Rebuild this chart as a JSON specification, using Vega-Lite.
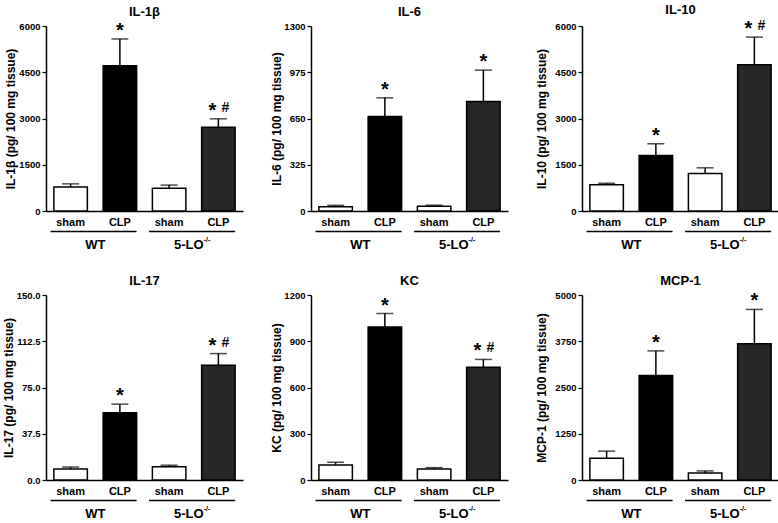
{
"$schema": "https://vega.github.io/schema/vega-lite/v6.json",
"padding": {"left": 2, "top": 4, "right": 0, "bottom": 0},
"background": "white",
"config": {
  "view": {"stroke": null},
  "font": "Liberation Sans",
  "axis": {"labelFont": "Liberation Sans", "titleFont": "Liberation Sans", "labelFontWeight": "bold", "titleFontWeight": "bold", "labelColor": "black", "titleColor": "black", "domainColor": "black", "tickColor": "black", "domainWidth": 1.5, "tickWidth": 1.2, "grid": false, "labelOverlap": false},
  "title": {"font": "Liberation Sans", "fontSize": 13, "fontWeight": "bold", "color": "black", "offset": 2, "anchor": "middle"},
  "text": {"font": "Liberation Sans", "fontWeight": "bold", "color": "black"}
},
"datasets": {
  "cyto": [
    {"cytokine": "IL-1β", "cond": "WT sham", "mean": 780, "upper": 880, "star": "", "hash": ""},
    {"cytokine": "IL-1β", "cond": "WT CLP", "mean": 4710, "upper": 5580, "star": "*", "hash": ""},
    {"cytokine": "IL-1β", "cond": "KO sham", "mean": 740, "upper": 840, "star": "", "hash": ""},
    {"cytokine": "IL-1β", "cond": "KO CLP", "mean": 2720, "upper": 2990, "star": "*", "hash": "#"},
    {"cytokine": "IL-6", "cond": "WT sham", "mean": 30, "upper": 40, "star": "", "hash": ""},
    {"cytokine": "IL-6", "cond": "WT CLP", "mean": 664, "upper": 795, "star": "*", "hash": ""},
    {"cytokine": "IL-6", "cond": "KO sham", "mean": 34, "upper": 41, "star": "", "hash": ""},
    {"cytokine": "IL-6", "cond": "KO CLP", "mean": 770, "upper": 990, "star": "*", "hash": ""},
    {"cytokine": "IL-10", "cond": "WT sham", "mean": 850, "upper": 900, "star": "", "hash": ""},
    {"cytokine": "IL-10", "cond": "WT CLP", "mean": 1800, "upper": 2180, "star": "*", "hash": ""},
    {"cytokine": "IL-10", "cond": "KO sham", "mean": 1220, "upper": 1400, "star": "", "hash": ""},
    {"cytokine": "IL-10", "cond": "KO CLP", "mean": 4740, "upper": 5640, "star": "*", "hash": "#"},
    {"cytokine": "IL-17", "cond": "WT sham", "mean": 9, "upper": 10.5, "star": "", "hash": ""},
    {"cytokine": "IL-17", "cond": "WT CLP", "mean": 54.5, "upper": 61.5, "star": "*", "hash": ""},
    {"cytokine": "IL-17", "cond": "KO sham", "mean": 10.8, "upper": 12, "star": "", "hash": ""},
    {"cytokine": "IL-17", "cond": "KO CLP", "mean": 93, "upper": 102.5, "star": "*", "hash": "#"},
    {"cytokine": "KC", "cond": "WT sham", "mean": 97, "upper": 115, "star": "", "hash": ""},
    {"cytokine": "KC", "cond": "WT CLP", "mean": 992, "upper": 1080, "star": "*", "hash": ""},
    {"cytokine": "KC", "cond": "KO sham", "mean": 71, "upper": 80, "star": "", "hash": ""},
    {"cytokine": "KC", "cond": "KO CLP", "mean": 732, "upper": 782, "star": "*", "hash": "#"},
    {"cytokine": "MCP-1", "cond": "WT sham", "mean": 590, "upper": 780, "star": "", "hash": ""},
    {"cytokine": "MCP-1", "cond": "WT CLP", "mean": 2825, "upper": 3490, "star": "*", "hash": ""},
    {"cytokine": "MCP-1", "cond": "KO sham", "mean": 190, "upper": 245, "star": "", "hash": ""},
    {"cytokine": "MCP-1", "cond": "KO CLP", "mean": 3680, "upper": 4610, "star": "*", "hash": ""}
  ],
  "groups": [
    {"first": "WT sham", "last": "WT CLP", "label": "WT", "sup": ""},
    {"first": "KO sham", "last": "KO CLP", "label": "5-LO", "sup": "-/-"}
  ]
},
"columns": 3,
"spacing": {"row": 23, "column": 27},
"resolve": {"scale": {"y": "independent", "x": "independent", "fill": "independent"}},
"concat": [
{
  "width": 197, "height": 185, "title": "IL-1β",
  "layer": [
    {"data": {"name": "cyto"}, "transform": [{"filter": "datum.cytokine === 'IL-1β'"}],
     "encoding": {"x": {"field": "cond", "type": "nominal", "sort": null, "scale": {"domain": ["WT sham", "WT CLP", "KO sham", "KO CLP"], "paddingInner": 0.32, "paddingOuter": 0.16}, "axis": {"title": null, "labelExpr": "split(datum.value, ' ')[1]", "ticks": false, "labelPadding": 5, "labelFontSize": 11, "labelAngle": 0}}},
     "layer": [
       {"mark": {"type": "bar", "stroke": "black", "strokeWidth": 1.5}, "encoding": {"y": {"field": "mean", "type": "quantitative", "scale": {"domain": [0, 6000], "nice": false}, "axis": {"title": "IL-1β (pg/ 100 mg tissue)", "values": [0,750,1500,2250,3000,3750,4500,5250,6000], "format": "d", "labelExpr": "datum.value % 1500 === 0 ? datum.label : ''", "tickSize": {"condition": {"test": "datum.value % 1500 !== 0", "value": 2}, "value": 4}, "labelFontSize": 9.5, "titleFontSize": 12, "labelPadding": 2, "titlePadding": 1}}, "fill": {"field": "cond", "type": "nominal", "scale": {"domain": ["WT sham", "WT CLP", "KO sham", "KO CLP"], "range": ["white", "black", "white", "#262626"]}, "legend": null}}},
       {"mark": {"type": "rule", "color": "black", "strokeWidth": 1.5}, "encoding": {"y": {"field": "mean", "type": "quantitative"}, "y2": {"field": "upper"}}},
       {"mark": {"type": "tick", "color": "black", "thickness": 1.5, "size": 17, "orient": "horizontal"}, "encoding": {"y": {"field": "upper", "type": "quantitative"}}},
       {"transform": [{"filter": "datum.star !== '' && datum.hash === ''"}], "mark": {"type": "text", "text": "*", "fontSize": 20, "dy": -2, "baseline": "alphabetic"}, "encoding": {"y": {"field": "upper", "type": "quantitative"}}},
       {"transform": [{"filter": "datum.hash !== ''"}], "mark": {"type": "text", "text": "*", "fontSize": 20, "dy": -2, "dx": -6, "baseline": "alphabetic"}, "encoding": {"y": {"field": "upper", "type": "quantitative"}}},
       {"transform": [{"filter": "datum.hash !== ''"}], "mark": {"type": "text", "text": "#", "fontSize": 14, "dy": -7, "dx": 7, "baseline": "alphabetic"}, "encoding": {"y": {"field": "upper", "type": "quantitative"}}}
     ]},
    {"data": {"name": "groups"},
     "layer": [
       {"mark": {"type": "rule", "color": "black", "strokeWidth": 1.5}, "encoding": {"x": {"field": "first", "type": "nominal", "bandPosition": -0.1, "scale": {"domain": ["WT sham", "WT CLP", "KO sham", "KO CLP"], "paddingInner": 0.32, "paddingOuter": 0.16}, "axis": {"title": null, "labelExpr": "split(datum.value, ' ')[1]", "ticks": false, "labelPadding": 5, "labelFontSize": 11, "labelAngle": 0}}, "x2": {"field": "last", "bandPosition": 1}, "y": {"datum": -666, "type": "quantitative"}}},
       {"transform": [{"filter": "datum.sup === ''"}], "mark": {"type": "text", "fontSize": 13, "baseline": "middle"}, "encoding": {"x": {"field": "first", "type": "nominal", "bandPosition": 1.235}, "y": {"datum": -1100, "type": "quantitative"}, "text": {"field": "label"}}},
       {"transform": [{"filter": "datum.sup !== ''"}], "mark": {"type": "text", "fontSize": 13, "baseline": "middle", "dx": -5}, "encoding": {"x": {"field": "first", "type": "nominal", "bandPosition": 1.235}, "y": {"datum": -1100, "type": "quantitative"}, "text": {"field": "label"}}},
       {"transform": [{"filter": "datum.sup !== ''"}], "mark": {"type": "text", "fontSize": 7, "baseline": "middle", "align": "left", "dx": 10, "dy": -5}, "encoding": {"x": {"field": "first", "type": "nominal", "bandPosition": 1.235}, "y": {"datum": -1100, "type": "quantitative"}, "text": {"field": "sup"}}}
     ]}
  ]
},
{
  "width": 197, "height": 185, "title": "IL-6",
  "layer": [
    {"data": {"name": "cyto"}, "transform": [{"filter": "datum.cytokine === 'IL-6'"}],
     "encoding": {"x": {"field": "cond", "type": "nominal", "sort": null, "scale": {"domain": ["WT sham", "WT CLP", "KO sham", "KO CLP"], "paddingInner": 0.32, "paddingOuter": 0.16}, "axis": {"title": null, "labelExpr": "split(datum.value, ' ')[1]", "ticks": false, "labelPadding": 5, "labelFontSize": 11, "labelAngle": 0}}},
     "layer": [
       {"mark": {"type": "bar", "stroke": "black", "strokeWidth": 1.5}, "encoding": {"y": {"field": "mean", "type": "quantitative", "scale": {"domain": [0, 1300], "nice": false}, "axis": {"title": "IL-6 (pg/ 100 mg tissue)", "values": [0,162.5,325,487.5,650,812.5,975,1137.5,1300], "format": "d", "labelExpr": "datum.value % 325 === 0 ? datum.label : ''", "tickSize": {"condition": {"test": "datum.value % 325 !== 0", "value": 2}, "value": 4}, "labelFontSize": 9.5, "titleFontSize": 12, "labelPadding": 2, "titlePadding": 0}}, "fill": {"field": "cond", "type": "nominal", "scale": {"domain": ["WT sham", "WT CLP", "KO sham", "KO CLP"], "range": ["white", "black", "white", "#262626"]}, "legend": null}}},
       {"mark": {"type": "rule", "color": "black", "strokeWidth": 1.5}, "encoding": {"y": {"field": "mean", "type": "quantitative"}, "y2": {"field": "upper"}}},
       {"mark": {"type": "tick", "color": "black", "thickness": 1.5, "size": 17, "orient": "horizontal"}, "encoding": {"y": {"field": "upper", "type": "quantitative"}}},
       {"transform": [{"filter": "datum.star !== '' && datum.hash === ''"}], "mark": {"type": "text", "text": "*", "fontSize": 20, "dy": -2, "baseline": "alphabetic"}, "encoding": {"y": {"field": "upper", "type": "quantitative"}}},
       {"transform": [{"filter": "datum.hash !== ''"}], "mark": {"type": "text", "text": "*", "fontSize": 20, "dy": -2, "dx": -6, "baseline": "alphabetic"}, "encoding": {"y": {"field": "upper", "type": "quantitative"}}},
       {"transform": [{"filter": "datum.hash !== ''"}], "mark": {"type": "text", "text": "#", "fontSize": 14, "dy": -7, "dx": 7, "baseline": "alphabetic"}, "encoding": {"y": {"field": "upper", "type": "quantitative"}}}
     ]},
    {"data": {"name": "groups"},
     "layer": [
       {"mark": {"type": "rule", "color": "black", "strokeWidth": 1.5}, "encoding": {"x": {"field": "first", "type": "nominal", "bandPosition": -0.1, "scale": {"domain": ["WT sham", "WT CLP", "KO sham", "KO CLP"], "paddingInner": 0.32, "paddingOuter": 0.16}, "axis": {"title": null, "labelExpr": "split(datum.value, ' ')[1]", "ticks": false, "labelPadding": 5, "labelFontSize": 11, "labelAngle": 0}}, "x2": {"field": "last", "bandPosition": 1}, "y": {"datum": -144.4, "type": "quantitative"}}},
       {"transform": [{"filter": "datum.sup === ''"}], "mark": {"type": "text", "fontSize": 13, "baseline": "middle"}, "encoding": {"x": {"field": "first", "type": "nominal", "bandPosition": 1.235}, "y": {"datum": -238, "type": "quantitative"}, "text": {"field": "label"}}},
       {"transform": [{"filter": "datum.sup !== ''"}], "mark": {"type": "text", "fontSize": 13, "baseline": "middle", "dx": -5}, "encoding": {"x": {"field": "first", "type": "nominal", "bandPosition": 1.235}, "y": {"datum": -238, "type": "quantitative"}, "text": {"field": "label"}}},
       {"transform": [{"filter": "datum.sup !== ''"}], "mark": {"type": "text", "fontSize": 7, "baseline": "middle", "align": "left", "dx": 10, "dy": -5}, "encoding": {"x": {"field": "first", "type": "nominal", "bandPosition": 1.235}, "y": {"datum": -238, "type": "quantitative"}, "text": {"field": "sup"}}}
     ]}
  ]
},
{
  "width": 197, "height": 185, "title": "IL-10",
  "layer": [
    {"data": {"name": "cyto"}, "transform": [{"filter": "datum.cytokine === 'IL-10'"}],
     "encoding": {"x": {"field": "cond", "type": "nominal", "sort": null, "scale": {"domain": ["WT sham", "WT CLP", "KO sham", "KO CLP"], "paddingInner": 0.32, "paddingOuter": 0.16}, "axis": {"title": null, "labelExpr": "split(datum.value, ' ')[1]", "ticks": false, "labelPadding": 5, "labelFontSize": 11, "labelAngle": 0}}},
     "layer": [
       {"mark": {"type": "bar", "stroke": "black", "strokeWidth": 1.5}, "encoding": {"y": {"field": "mean", "type": "quantitative", "scale": {"domain": [0, 6000], "nice": false}, "axis": {"title": "IL-10 (pg/ 100 mg tissue)", "values": [0,750,1500,2250,3000,3750,4500,5250,6000], "format": "d", "labelExpr": "datum.value % 1500 === 0 ? datum.label : ''", "tickSize": {"condition": {"test": "datum.value % 1500 !== 0", "value": 2}, "value": 4}, "labelFontSize": 9.5, "titleFontSize": 12, "labelPadding": 2, "titlePadding": 6}}, "fill": {"field": "cond", "type": "nominal", "scale": {"domain": ["WT sham", "WT CLP", "KO sham", "KO CLP"], "range": ["white", "black", "white", "#262626"]}, "legend": null}}},
       {"mark": {"type": "rule", "color": "black", "strokeWidth": 1.5}, "encoding": {"y": {"field": "mean", "type": "quantitative"}, "y2": {"field": "upper"}}},
       {"mark": {"type": "tick", "color": "black", "thickness": 1.5, "size": 17, "orient": "horizontal"}, "encoding": {"y": {"field": "upper", "type": "quantitative"}}},
       {"transform": [{"filter": "datum.star !== '' && datum.hash === ''"}], "mark": {"type": "text", "text": "*", "fontSize": 20, "dy": -2, "baseline": "alphabetic"}, "encoding": {"y": {"field": "upper", "type": "quantitative"}}},
       {"transform": [{"filter": "datum.hash !== ''"}], "mark": {"type": "text", "text": "*", "fontSize": 20, "dy": -2, "dx": -6, "baseline": "alphabetic"}, "encoding": {"y": {"field": "upper", "type": "quantitative"}}},
       {"transform": [{"filter": "datum.hash !== ''"}], "mark": {"type": "text", "text": "#", "fontSize": 14, "dy": -7, "dx": 7, "baseline": "alphabetic"}, "encoding": {"y": {"field": "upper", "type": "quantitative"}}}
     ]},
    {"data": {"name": "groups"},
     "layer": [
       {"mark": {"type": "rule", "color": "black", "strokeWidth": 1.5}, "encoding": {"x": {"field": "first", "type": "nominal", "bandPosition": -0.1, "scale": {"domain": ["WT sham", "WT CLP", "KO sham", "KO CLP"], "paddingInner": 0.32, "paddingOuter": 0.16}, "axis": {"title": null, "labelExpr": "split(datum.value, ' ')[1]", "ticks": false, "labelPadding": 5, "labelFontSize": 11, "labelAngle": 0}}, "x2": {"field": "last", "bandPosition": 1}, "y": {"datum": -666, "type": "quantitative"}}},
       {"transform": [{"filter": "datum.sup === ''"}], "mark": {"type": "text", "fontSize": 13, "baseline": "middle"}, "encoding": {"x": {"field": "first", "type": "nominal", "bandPosition": 1.235}, "y": {"datum": -1100, "type": "quantitative"}, "text": {"field": "label"}}},
       {"transform": [{"filter": "datum.sup !== ''"}], "mark": {"type": "text", "fontSize": 13, "baseline": "middle", "dx": -5}, "encoding": {"x": {"field": "first", "type": "nominal", "bandPosition": 1.235}, "y": {"datum": -1100, "type": "quantitative"}, "text": {"field": "label"}}},
       {"transform": [{"filter": "datum.sup !== ''"}], "mark": {"type": "text", "fontSize": 7, "baseline": "middle", "align": "left", "dx": 10, "dy": -5}, "encoding": {"x": {"field": "first", "type": "nominal", "bandPosition": 1.235}, "y": {"datum": -1100, "type": "quantitative"}, "text": {"field": "sup"}}}
     ]}
  ]
},
{
  "width": 197, "height": 185, "title": "IL-17",
  "layer": [
    {"data": {"name": "cyto"}, "transform": [{"filter": "datum.cytokine === 'IL-17'"}],
     "encoding": {"x": {"field": "cond", "type": "nominal", "sort": null, "scale": {"domain": ["WT sham", "WT CLP", "KO sham", "KO CLP"], "paddingInner": 0.32, "paddingOuter": 0.16}, "axis": {"title": null, "labelExpr": "split(datum.value, ' ')[1]", "ticks": false, "labelPadding": 5, "labelFontSize": 11, "labelAngle": 0}}},
     "layer": [
       {"mark": {"type": "bar", "stroke": "black", "strokeWidth": 1.5}, "encoding": {"y": {"field": "mean", "type": "quantitative", "scale": {"domain": [0, 150], "nice": false}, "axis": {"title": "IL-17 (pg/ 100 mg tissue)", "values": [0,18.75,37.5,56.25,75,93.75,112.5,131.25,150], "format": ".1f", "labelExpr": "datum.value % 37.5 === 0 ? datum.label : ''", "tickSize": {"condition": {"test": "datum.value % 37.5 !== 0", "value": 2}, "value": 4}, "labelFontSize": 9.5, "titleFontSize": 12, "labelPadding": 2, "titlePadding": 1}}, "fill": {"field": "cond", "type": "nominal", "scale": {"domain": ["WT sham", "WT CLP", "KO sham", "KO CLP"], "range": ["white", "black", "white", "#262626"]}, "legend": null}}},
       {"mark": {"type": "rule", "color": "black", "strokeWidth": 1.5}, "encoding": {"y": {"field": "mean", "type": "quantitative"}, "y2": {"field": "upper"}}},
       {"mark": {"type": "tick", "color": "black", "thickness": 1.5, "size": 17, "orient": "horizontal"}, "encoding": {"y": {"field": "upper", "type": "quantitative"}}},
       {"transform": [{"filter": "datum.star !== '' && datum.hash === ''"}], "mark": {"type": "text", "text": "*", "fontSize": 20, "dy": -2, "baseline": "alphabetic"}, "encoding": {"y": {"field": "upper", "type": "quantitative"}}},
       {"transform": [{"filter": "datum.hash !== ''"}], "mark": {"type": "text", "text": "*", "fontSize": 20, "dy": -2, "dx": -6, "baseline": "alphabetic"}, "encoding": {"y": {"field": "upper", "type": "quantitative"}}},
       {"transform": [{"filter": "datum.hash !== ''"}], "mark": {"type": "text", "text": "#", "fontSize": 14, "dy": -7, "dx": 7, "baseline": "alphabetic"}, "encoding": {"y": {"field": "upper", "type": "quantitative"}}}
     ]},
    {"data": {"name": "groups"},
     "layer": [
       {"mark": {"type": "rule", "color": "black", "strokeWidth": 1.5}, "encoding": {"x": {"field": "first", "type": "nominal", "bandPosition": -0.1, "scale": {"domain": ["WT sham", "WT CLP", "KO sham", "KO CLP"], "paddingInner": 0.32, "paddingOuter": 0.16}, "axis": {"title": null, "labelExpr": "split(datum.value, ' ')[1]", "ticks": false, "labelPadding": 5, "labelFontSize": 11, "labelAngle": 0}}, "x2": {"field": "last", "bandPosition": 1}, "y": {"datum": -16.65, "type": "quantitative"}}},
       {"transform": [{"filter": "datum.sup === ''"}], "mark": {"type": "text", "fontSize": 13, "baseline": "middle"}, "encoding": {"x": {"field": "first", "type": "nominal", "bandPosition": 1.235}, "y": {"datum": -27.5, "type": "quantitative"}, "text": {"field": "label"}}},
       {"transform": [{"filter": "datum.sup !== ''"}], "mark": {"type": "text", "fontSize": 13, "baseline": "middle", "dx": -5}, "encoding": {"x": {"field": "first", "type": "nominal", "bandPosition": 1.235}, "y": {"datum": -27.5, "type": "quantitative"}, "text": {"field": "label"}}},
       {"transform": [{"filter": "datum.sup !== ''"}], "mark": {"type": "text", "fontSize": 7, "baseline": "middle", "align": "left", "dx": 10, "dy": -5}, "encoding": {"x": {"field": "first", "type": "nominal", "bandPosition": 1.235}, "y": {"datum": -27.5, "type": "quantitative"}, "text": {"field": "sup"}}}
     ]}
  ]
},
{
  "width": 197, "height": 185, "title": "KC",
  "layer": [
    {"data": {"name": "cyto"}, "transform": [{"filter": "datum.cytokine === 'KC'"}],
     "encoding": {"x": {"field": "cond", "type": "nominal", "sort": null, "scale": {"domain": ["WT sham", "WT CLP", "KO sham", "KO CLP"], "paddingInner": 0.32, "paddingOuter": 0.16}, "axis": {"title": null, "labelExpr": "split(datum.value, ' ')[1]", "ticks": false, "labelPadding": 5, "labelFontSize": 11, "labelAngle": 0}}},
     "layer": [
       {"mark": {"type": "bar", "stroke": "black", "strokeWidth": 1.5}, "encoding": {"y": {"field": "mean", "type": "quantitative", "scale": {"domain": [0, 1200], "nice": false}, "axis": {"title": "KC (pg/ 100 mg tissue)", "values": [0,150,300,450,600,750,900,1050,1200], "format": "d", "labelExpr": "datum.value % 300 === 0 ? datum.label : ''", "tickSize": {"condition": {"test": "datum.value % 300 !== 0", "value": 2}, "value": 4}, "labelFontSize": 9.5, "titleFontSize": 12, "labelPadding": 2, "titlePadding": 0}}, "fill": {"field": "cond", "type": "nominal", "scale": {"domain": ["WT sham", "WT CLP", "KO sham", "KO CLP"], "range": ["white", "black", "white", "#262626"]}, "legend": null}}},
       {"mark": {"type": "rule", "color": "black", "strokeWidth": 1.5}, "encoding": {"y": {"field": "mean", "type": "quantitative"}, "y2": {"field": "upper"}}},
       {"mark": {"type": "tick", "color": "black", "thickness": 1.5, "size": 17, "orient": "horizontal"}, "encoding": {"y": {"field": "upper", "type": "quantitative"}}},
       {"transform": [{"filter": "datum.star !== '' && datum.hash === ''"}], "mark": {"type": "text", "text": "*", "fontSize": 20, "dy": -2, "baseline": "alphabetic"}, "encoding": {"y": {"field": "upper", "type": "quantitative"}}},
       {"transform": [{"filter": "datum.hash !== ''"}], "mark": {"type": "text", "text": "*", "fontSize": 20, "dy": -2, "dx": -6, "baseline": "alphabetic"}, "encoding": {"y": {"field": "upper", "type": "quantitative"}}},
       {"transform": [{"filter": "datum.hash !== ''"}], "mark": {"type": "text", "text": "#", "fontSize": 14, "dy": -7, "dx": 7, "baseline": "alphabetic"}, "encoding": {"y": {"field": "upper", "type": "quantitative"}}}
     ]},
    {"data": {"name": "groups"},
     "layer": [
       {"mark": {"type": "rule", "color": "black", "strokeWidth": 1.5}, "encoding": {"x": {"field": "first", "type": "nominal", "bandPosition": -0.1, "scale": {"domain": ["WT sham", "WT CLP", "KO sham", "KO CLP"], "paddingInner": 0.32, "paddingOuter": 0.16}, "axis": {"title": null, "labelExpr": "split(datum.value, ' ')[1]", "ticks": false, "labelPadding": 5, "labelFontSize": 11, "labelAngle": 0}}, "x2": {"field": "last", "bandPosition": 1}, "y": {"datum": -133.2, "type": "quantitative"}}},
       {"transform": [{"filter": "datum.sup === ''"}], "mark": {"type": "text", "fontSize": 13, "baseline": "middle"}, "encoding": {"x": {"field": "first", "type": "nominal", "bandPosition": 1.235}, "y": {"datum": -220, "type": "quantitative"}, "text": {"field": "label"}}},
       {"transform": [{"filter": "datum.sup !== ''"}], "mark": {"type": "text", "fontSize": 13, "baseline": "middle", "dx": -5}, "encoding": {"x": {"field": "first", "type": "nominal", "bandPosition": 1.235}, "y": {"datum": -220, "type": "quantitative"}, "text": {"field": "label"}}},
       {"transform": [{"filter": "datum.sup !== ''"}], "mark": {"type": "text", "fontSize": 7, "baseline": "middle", "align": "left", "dx": 10, "dy": -5}, "encoding": {"x": {"field": "first", "type": "nominal", "bandPosition": 1.235}, "y": {"datum": -220, "type": "quantitative"}, "text": {"field": "sup"}}}
     ]}
  ]
},
{
  "width": 197, "height": 185, "title": "MCP-1",
  "layer": [
    {"data": {"name": "cyto"}, "transform": [{"filter": "datum.cytokine === 'MCP-1'"}],
     "encoding": {"x": {"field": "cond", "type": "nominal", "sort": null, "scale": {"domain": ["WT sham", "WT CLP", "KO sham", "KO CLP"], "paddingInner": 0.32, "paddingOuter": 0.16}, "axis": {"title": null, "labelExpr": "split(datum.value, ' ')[1]", "ticks": false, "labelPadding": 5, "labelFontSize": 11, "labelAngle": 0}}},
     "layer": [
       {"mark": {"type": "bar", "stroke": "black", "strokeWidth": 1.5}, "encoding": {"y": {"field": "mean", "type": "quantitative", "scale": {"domain": [0, 5000], "nice": false}, "axis": {"title": "MCP-1 (pg/  100 mg tissue)", "values": [0,625,1250,1875,2500,3125,3750,4375,5000], "format": "d", "labelExpr": "datum.value % 1250 === 0 ? datum.label : ''", "tickSize": {"condition": {"test": "datum.value % 1250 !== 0", "value": 2}, "value": 4}, "labelFontSize": 9.5, "titleFontSize": 12, "labelPadding": 2, "titlePadding": 6}}, "fill": {"field": "cond", "type": "nominal", "scale": {"domain": ["WT sham", "WT CLP", "KO sham", "KO CLP"], "range": ["white", "black", "white", "#262626"]}, "legend": null}}},
       {"mark": {"type": "rule", "color": "black", "strokeWidth": 1.5}, "encoding": {"y": {"field": "mean", "type": "quantitative"}, "y2": {"field": "upper"}}},
       {"mark": {"type": "tick", "color": "black", "thickness": 1.5, "size": 17, "orient": "horizontal"}, "encoding": {"y": {"field": "upper", "type": "quantitative"}}},
       {"transform": [{"filter": "datum.star !== '' && datum.hash === ''"}], "mark": {"type": "text", "text": "*", "fontSize": 20, "dy": -2, "baseline": "alphabetic"}, "encoding": {"y": {"field": "upper", "type": "quantitative"}}},
       {"transform": [{"filter": "datum.hash !== ''"}], "mark": {"type": "text", "text": "*", "fontSize": 20, "dy": -2, "dx": -6, "baseline": "alphabetic"}, "encoding": {"y": {"field": "upper", "type": "quantitative"}}},
       {"transform": [{"filter": "datum.hash !== ''"}], "mark": {"type": "text", "text": "#", "fontSize": 14, "dy": -7, "dx": 7, "baseline": "alphabetic"}, "encoding": {"y": {"field": "upper", "type": "quantitative"}}}
     ]},
    {"data": {"name": "groups"},
     "layer": [
       {"mark": {"type": "rule", "color": "black", "strokeWidth": 1.5}, "encoding": {"x": {"field": "first", "type": "nominal", "bandPosition": -0.1, "scale": {"domain": ["WT sham", "WT CLP", "KO sham", "KO CLP"], "paddingInner": 0.32, "paddingOuter": 0.16}, "axis": {"title": null, "labelExpr": "split(datum.value, ' ')[1]", "ticks": false, "labelPadding": 5, "labelFontSize": 11, "labelAngle": 0}}, "x2": {"field": "last", "bandPosition": 1}, "y": {"datum": -555, "type": "quantitative"}}},
       {"transform": [{"filter": "datum.sup === ''"}], "mark": {"type": "text", "fontSize": 13, "baseline": "middle"}, "encoding": {"x": {"field": "first", "type": "nominal", "bandPosition": 1.235}, "y": {"datum": -917, "type": "quantitative"}, "text": {"field": "label"}}},
       {"transform": [{"filter": "datum.sup !== ''"}], "mark": {"type": "text", "fontSize": 13, "baseline": "middle", "dx": -5}, "encoding": {"x": {"field": "first", "type": "nominal", "bandPosition": 1.235}, "y": {"datum": -917, "type": "quantitative"}, "text": {"field": "label"}}},
       {"transform": [{"filter": "datum.sup !== ''"}], "mark": {"type": "text", "fontSize": 7, "baseline": "middle", "align": "left", "dx": 10, "dy": -5}, "encoding": {"x": {"field": "first", "type": "nominal", "bandPosition": 1.235}, "y": {"datum": -917, "type": "quantitative"}, "text": {"field": "sup"}}}
     ]}
  ]
}
]
}
